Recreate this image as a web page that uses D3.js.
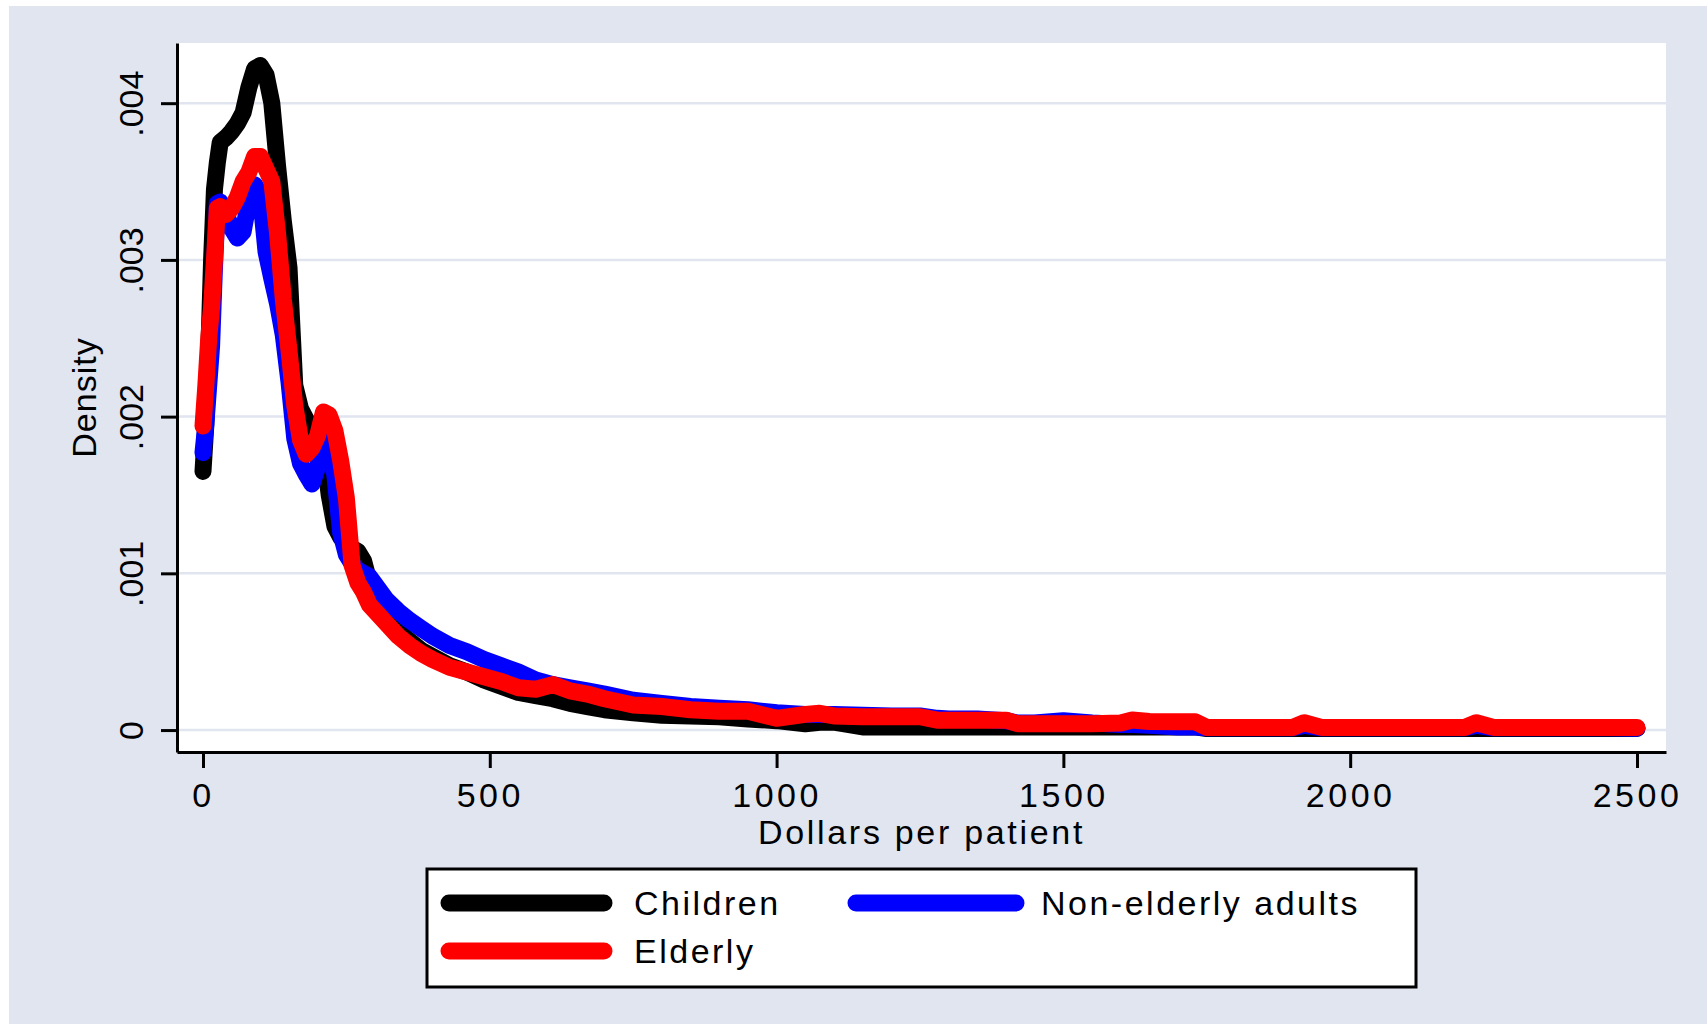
<!DOCTYPE html>
<html>
<head>
<meta charset="utf-8">
<style>
body { margin: 0; background: #ffffff; }
text { font-family: "Liberation Sans", Arial, sans-serif; }
</style>
</head>
<body>
<div id="chart"></div>
<script src="https://cdn.jsdelivr.net/npm/d3@7"></script>
<script>

/////// data
// dollars = x grid, one density value per grid point for each group
//////

var dollars = [
   0,    5,   10,   15,   20,   25,   30,   40,   50,   60,
  70,   80,   90,  100,  110,  120,  130,  140,  150,  160,
 170,  180,  190,  200,  210,  220,  230,  240,  250,  260,
 270,  280,  290,  300,  320,  340,  360,  380,  400,  430,
 460,  490,  520,  550,  580,  610,  640,  670,  700,  750,
 800,  850,  900,  950, 1000, 1050, 1075, 1100, 1150, 1200,
1250, 1280, 1300, 1350, 1400, 1420, 1450, 1500, 1550, 1600,
1620, 1650, 1700, 1730, 1750, 1800, 1850, 1900, 1920, 1950,
2000, 2050, 2100, 2150, 2200, 2220, 2250, 2300, 2350, 2400,
2450, 2500]

var children = [
 .00165, .00195, .00240, .00300, .00345, .00362, .00375, .00378, .00382, .00387,
 .00394, .00410, .00422, .00424, .00418, .00400, .00360, .00325, .00295, .00220,
 .00205, .00198, .00193, .00190, .00180, .00150, .00130, .00123, .00119, .00116,
 .00114, .00108, .00094, .00084, .00071, .00063, .00057, .00051, .00047, .00041,
 .00037, .00032, .00028, .00024, .00022, .00020, .00017, .00015, .00013, .00011,
 .000095, .00009, .000085, .00007, .00006, .00004, .00005, .00005, .00002, .00002,
 .00002, .00002, .00002, .00002, .00002, .00002, .00002, .00002, .00002, .00002,
 .00002, .00002, .00002, .00002, .00001, .00001, .00001, .00001, .00001, .00001,
 .00001, .00001, .00001, .00001, .00001, .00001, .00001, .00001, .00001, .00001,
 .00001, .00001]

var adults = [
 .00177, .00195, .00220, .00245, .00295, .00336, .00337, .00330, .00320, .00314,
 .00318, .00338, .00348, .00342, .00305, .00288, .00272, .00252, .00222, .00186,
 .00170, .00163, .00157, .00168, .00190, .00186, .00162, .00126, .00112, .00106,
 .00102, .00100, .00098, .00093, .00083, .00076, .00070, .00065, .00060, .00054,
 .00050, .00045, .00041, .00037, .00032, .00029, .00027, .00025, .00023, .00019,
 .00017, .00015, .00014, .00013, .00011, .00010, .00010, .00010, .000095, .00009,
 .00009, .000075, .00007, .00007, .00006, .000045, .000045, .00006, .000045, .000035,
 .000035, .00003, .00002, .00002, .000015, .000015, .000015, .000015, .00003, .000015,
 .000015, .000015, .000015, .000015, .000015, .00003, .000015, .000015, .000015, .000015,
 .000015, .000012]

var elderly = [
 .00194, .00220, .00250, .00270, .00300, .00333, .00334, .00329, .00333, .00340,
 .00350, .00356, .00366, .00366, .00358, .00350, .00317, .00275, .00242, .00207,
 .00185, .00176, .00180, .00188, .00203, .00201, .00191, .00172, .00148, .00105,
 .00094, .00088, .00080, .00076, .00068, .00060, .00054, .00049, .00045, .00040,
 .00037, .00034, .00031, .00027, .00026, .00029, .00025, .00023, .00020, .00016,
 .00015, .00013, .00012, .00012, .000075, .00010, .000107, .00009, .000085, .000085,
 .000085, .000063, .000063, .000063, .000063, .000041, .000041, .000041, .000041, .000045,
 .000064, .000055, .000053, .000053, .000017, .000017, .000017, .000017, .000047, .000017,
 .000017, .000017, .000017, .000017, .000017, .000047, .000017, .000017, .000017, .000017,
 .000017, .000017]

var seriesNames = ["Children", "Non-elderly adults", "Elderly"]
var xTicks = [0, 500, 1000, 1500, 2000, 2500]
var yTicks = [0, .001, .002, .003, .004]
var yTickLabels = ["0", ".001", ".002", ".003", ".004"]


// chart dimensions (pixels in the 1707x1024 window)
var width = 1707
var height = 1024
var plot = {left: 177, top: 43, right: 1666, bottom: 752}
var bgColor = '#e0e5ef'
var colors = ['#000000', '#0000ff', '#ff0000']
var lineWidth = 17

var xScale = d3.scaleLinear().domain([-45.3, 2550.6]).range([plot.left, plot.right]),
    yScale = d3.scaleLinear().domain([-0.00014, 0.004384]).range([plot.bottom, plot.top]);

var svg = d3.select("#chart").append("svg")
    .attr("width", width)
    .attr("height", height);

// graph region + plot region
svg.append("rect")
    .attr("x", 9).attr("y", 6)
    .attr("width", width - 9).attr("height", height - 6)
    .attr("fill", bgColor);
svg.append("rect")
    .attr("x", plot.left).attr("y", plot.top)
    .attr("width", plot.right - plot.left).attr("height", plot.bottom - plot.top)
    .attr("fill", "#ffffff");

// horizontal grid lines
svg.append("g").selectAll("line")
    .data(yTicks)
    .enter().append("line")
    .attr("x1", plot.left)
    .attr("x2", plot.right)
    .attr("y1", function(d) { return yScale(d); })
    .attr("y2", function(d) { return yScale(d); })
    .attr("stroke", bgColor)
    .attr("stroke-width", 2.5);

//////////////////////////////////////
// axes //
//////////////////////////////////////
var yAxis = svg.append("g")
    .attr("transform", "translate(" + plot.left + ",0)")
    .call(d3.axisLeft(yScale).tickValues(yTicks)
        .tickFormat(function(d, i) { return yTickLabels[i]; })
        .tickSize(16).tickSizeOuter(0));
yAxis.attr("font-size", 34).attr("font-family", null);
yAxis.selectAll("line, path").attr("stroke-width", 3);
yAxis.selectAll("text")
    .attr("transform", "rotate(-90)")
    .attr("x", 0)
    .attr("y", -34)
    .attr("dy", null)
    .attr("text-anchor", "middle")
    .attr("fill", "#000");

var xAxis = svg.append("g")
    .attr("transform", "translate(0," + plot.bottom + ")")
    .call(d3.axisBottom(xScale).tickValues(xTicks)
        .tickFormat(d3.format("d"))
        .tickSize(16).tickSizeOuter(0));
xAxis.attr("font-size", 34).attr("font-family", null);
xAxis.selectAll("line, path").attr("stroke-width", 3);
xAxis.selectAll("text")
    .attr("y", 55)
    .attr("dy", null)
    .style("letter-spacing", "3.5px")
    .attr("fill", "#000");

svg.append("text")
    .attr("x", (plot.left + plot.right) / 2)
    .attr("y", 844)
    .attr("text-anchor", "middle")
    .style("font-size", "34px")
    .style("letter-spacing", "2.7px")
    .text("Dollars per patient");
svg.append("text")
    .attr("transform", "translate(96," + (plot.top + plot.bottom) / 2 + ") rotate(-90)")
    .attr("text-anchor", "middle")
    .style("font-size", "34px")
    .style("letter-spacing", "1px")
    .text("Density");

//////////////////////////////////////
// density lines //
//////////////////////////////////////
var line = d3.line()
    .x(function(d, i) { return xScale(dollars[i]); })
    .y(function(d) { return yScale(d); });

svg.append("g").selectAll("path")
    .data([children, adults, elderly])
    .enter().append("path")
    .attr("d", line)
    .attr("fill", "none")
    .attr("stroke", function(d, i) { return colors[i]; })
    .attr("stroke-width", lineWidth)
    .attr("stroke-linejoin", "round")
    .attr("stroke-linecap", "round");

//////////////////////////////////////
// legend //
//////////////////////////////////////
var legend = svg.append("g");
legend.append("rect")
    .attr("x", 427).attr("y", 869)
    .attr("width", 989).attr("height", 118)
    .attr("fill", "#ffffff")
    .attr("stroke", "#000")
    .attr("stroke-width", 3);

var keyCols = [{x1: 449, x2: 604, tx: 634}, {x1: 856, x2: 1016, tx: 1041}]
var keyRows = [903, 951]

var item = legend.selectAll(".item")
    .data(seriesNames)
    .enter().append("g")
    .attr("class", "item")
    .attr("transform", function(d, i) { return "translate(0," + keyRows[Math.floor(i / 2)] + ")"; });
item.append("line")
    .attr("x1", function(d, i) { return keyCols[i % 2].x1; })
    .attr("x2", function(d, i) { return keyCols[i % 2].x2; })
    .attr("stroke", function(d, i) { return colors[i]; })
    .attr("stroke-width", lineWidth)
    .attr("stroke-linecap", "round");
item.append("text")
    .attr("x", function(d, i) { return keyCols[i % 2].tx; })
    .attr("y", 12)
    .style("font-size", "34px")
    .style("letter-spacing", "2.5px")
    .text(function(d) { return d; });

</script>
</body>
</html>
